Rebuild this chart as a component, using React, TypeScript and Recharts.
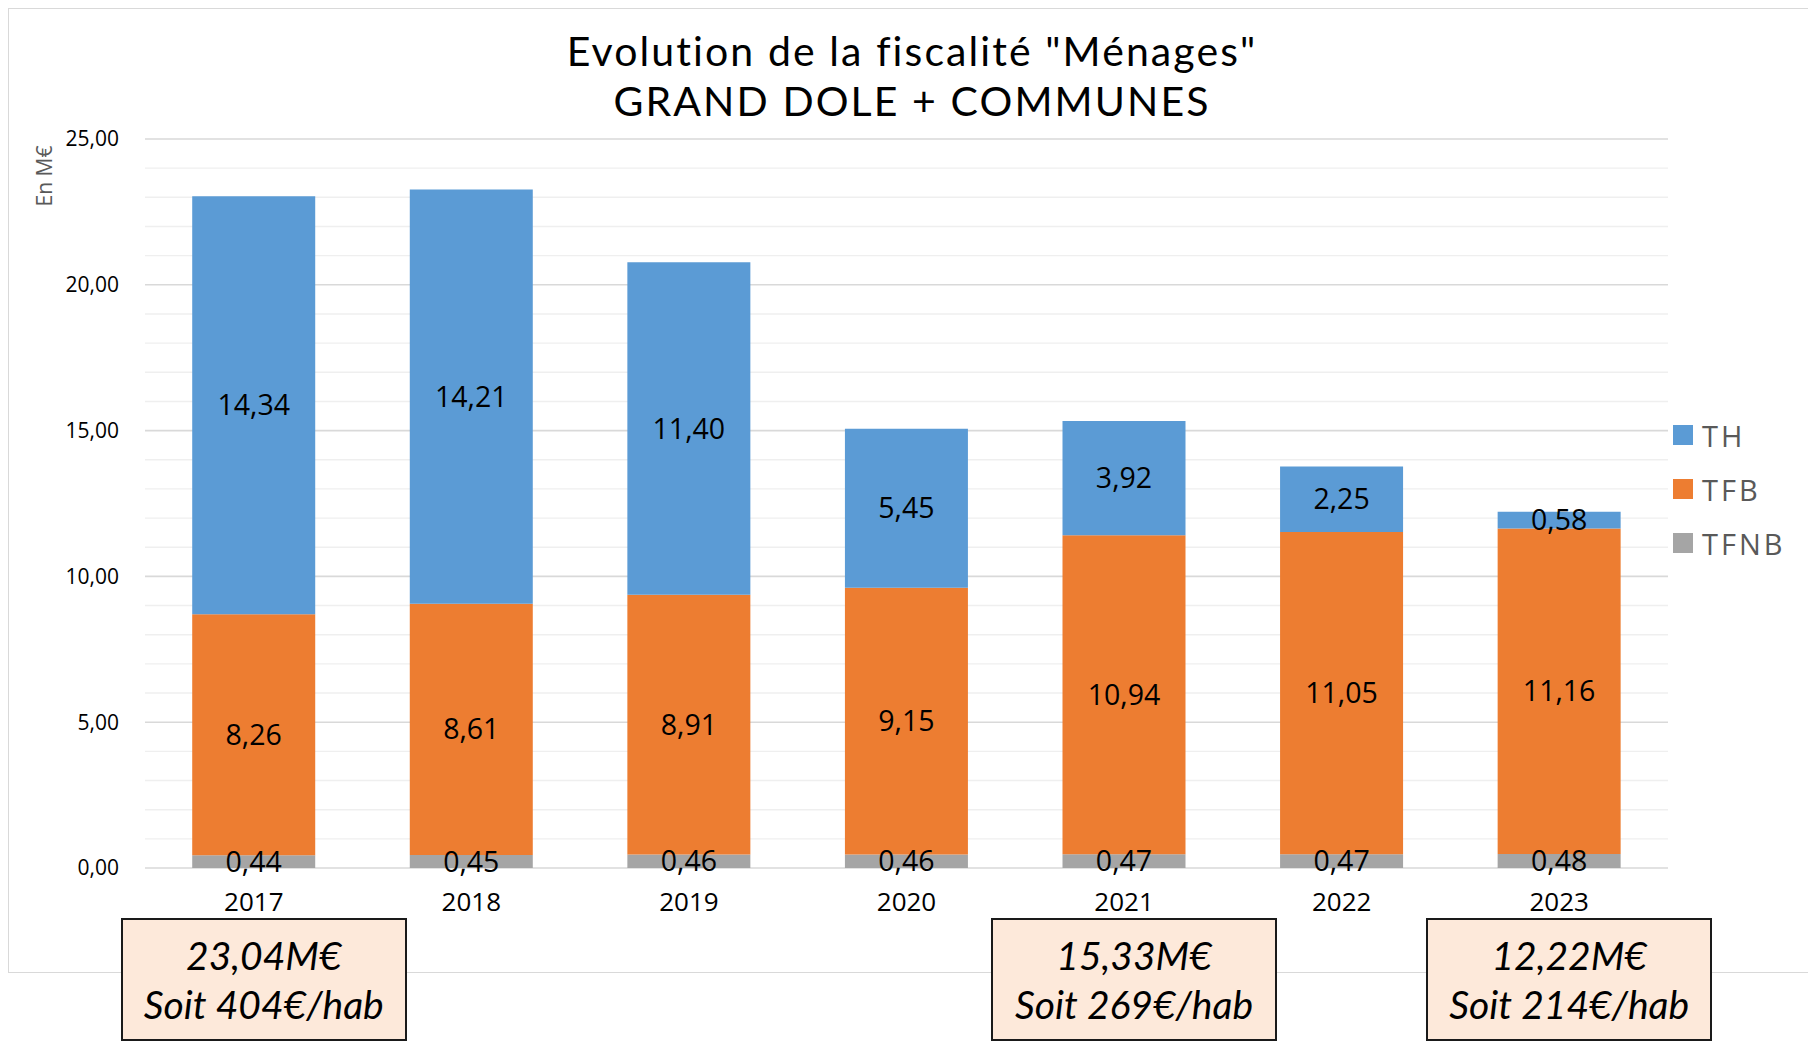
import React from "react";
import {
  BarChart,
  Bar,
  XAxis,
  YAxis,
  CartesianGrid,
  Legend,
  LabelList,
} from "recharts";

const years = ["2017", "2018", "2019", "2020", "2021", "2022", "2023"];
const tfnb = [0.44, 0.45, 0.46, 0.46, 0.47, 0.47, 0.48];
const tfb = [8.26, 8.61, 8.91, 9.15, 10.94, 11.05, 11.16];
const th = [14.34, 14.21, 11.4, 5.45, 3.92, 2.25, 0.58];

const majorTicks = [0, 5, 10, 15, 20, 25];
const minorTicks = [0, 1, 2, 3, 4, 5, 6, 7, 8, 9, 10, 11, 12, 13, 14, 15, 16, 17, 18, 19, 20, 21, 22, 23, 24, 25];

const summaryYears = ["2017", "2021", "2023"];
const summaryTotals = ["23,04M€", "15,33M€", "12,22M€"];
const summaryPerHab = ["Soit 404€/hab", "Soit 269€/hab", "Soit 214€/hab"];

const series = [
  { key: "TFNB", color: "#A5A5A5" },
  { key: "TFB", color: "#ED7D31" },
  { key: "TH", color: "#5B9BD5" },
];

const data = years.map((year, i) => ({
  year,
  TFNB: tfnb[i],
  TFB: tfb[i],
  TH: th[i],
}));

const FONT = "'Open Sans', sans-serif";
const LATO = "Lato, sans-serif";

const fmt = (v: number) => v.toFixed(2).replace(".", ",");

const W = 1802;
const H = 965;
const margin = { top: 131, right: 142, bottom: 75, left: 77 };
const yAxisWidth = 60;
const plotLeft = margin.left + yAxisWidth;
const plotRight = W - margin.right;
const band = (plotRight - plotLeft) / years.length;

const LegendBox = () => (
  <div style={{ fontFamily: FONT }}>
    {[...series].reverse().map((s) => (
      <div
        key={s.key}
        style={{ display: "flex", alignItems: "center", height: 54 }}
      >
        <div style={{ width: 20, height: 20, background: s.color }} />
        <span
          style={{
            marginLeft: 9,
            fontSize: 29,
            letterSpacing: 3,
            color: "#595959",
          }}
        >
          {s.key}
        </span>
      </div>
    ))}
  </div>
);

// grid line: darker on the labelled ticks, faint on the others
const GridLine = (props: any) => {
  const { x1, x2, y1, y2, index } = props;
  const major = index % 5 === 0;
  return (
    <line
      x1={x1}
      x2={x2}
      y1={y1}
      y2={y2}
      stroke={major ? "#d9d9d9" : "#efefef"}
      strokeWidth={major ? 1.6 : 1.4}
    />
  );
};

export default function App() {
  return (
    <div style={{ position: "relative", width: 1800, height: 1037 }}>
      <div
        style={{
          position: "absolute",
          left: 0,
          top: 0,
          width: W,
          height: H,
          border: "1px solid #d9d9d9",
          boxSizing: "border-box",
        }}
      />
      <div
        style={{
          position: "absolute",
          left: 0,
          top: 18,
          width: 1808,
          textAlign: "center",
          fontFamily: LATO,
          fontSize: 41,
          letterSpacing: 2.1,
          lineHeight: "50px",
          color: "#000",
        }}
      >
        Evolution de la fiscalité "Ménages"
        <br />
        GRAND DOLE + COMMUNES
      </div>
      <div style={{ position: "absolute", left: 0, top: 0 }}>
        <BarChart
          width={W}
          height={H}
          data={data}
          margin={margin}
          barCategoryGap="21.7%"
        >
          <CartesianGrid vertical={false} horizontal={<GridLine />} />
          <XAxis
            dataKey="year"
            axisLine={false}
            tickLine={false}
            tickSize={0}
            tickMargin={25}
            tick={{ fontSize: 26, fill: "#000", fontFamily: FONT }}
          />
          <YAxis
            domain={[0, 25]}
            ticks={minorTicks}
            interval={0}
            width={yAxisWidth}
            axisLine={false}
            tickLine={false}
            tickSize={0}
            tickMargin={26}
            tickFormatter={(v: number) => (majorTicks.includes(v) ? fmt(v) : "")}
            tick={{ fontSize: 21, fill: "#000", fontFamily: FONT }}
            label={{
              value: "En M€",
              angle: -90,
              position: "insideLeft",
              offset: -40,
              dy: -297,
              style: { fontSize: 21, fill: "#595959", fontFamily: FONT },
            }}
          />
          <Legend
            layout="vertical"
            verticalAlign="middle"
            align="center"
            content={<LegendBox />}
            wrapperStyle={{ top: 400, left: 1665, width: 140 }}
          />
          {series.map((s) => (
            <Bar
              key={s.key}
              dataKey={s.key}
              stackId="a"
              fill={s.color}
              isAnimationActive={false}
            >
              <LabelList
                dataKey={s.key}
                position="center"
                formatter={(v: number) => fmt(v)}
                style={{ fontSize: 28.5, fill: "#000", fontFamily: FONT }}
              />
            </Bar>
          ))}
        </BarChart>
      </div>
      {summaryYears.map((y, i) => {
        const idx = years.indexOf(y);
        const cx = plotLeft + (idx + 0.5) * band + 10;
        return (
          <div
            key={y}
            style={{
              position: "absolute",
              left: cx - 143,
              top: 910,
              width: 286,
              height: 123,
              boxSizing: "border-box",
              border: "2px solid #1a1a1a",
              background: "#FDE9DA",
              fontFamily: LATO,
              fontStyle: "italic",
              fontSize: 39,
              lineHeight: "49px",
              textAlign: "center",
              paddingTop: 11,
              color: "#000",
            }}
          >
            {summaryTotals[i]}
            <br />
            {summaryPerHab[i]}
          </div>
        );
      })}
    </div>
  );
}
